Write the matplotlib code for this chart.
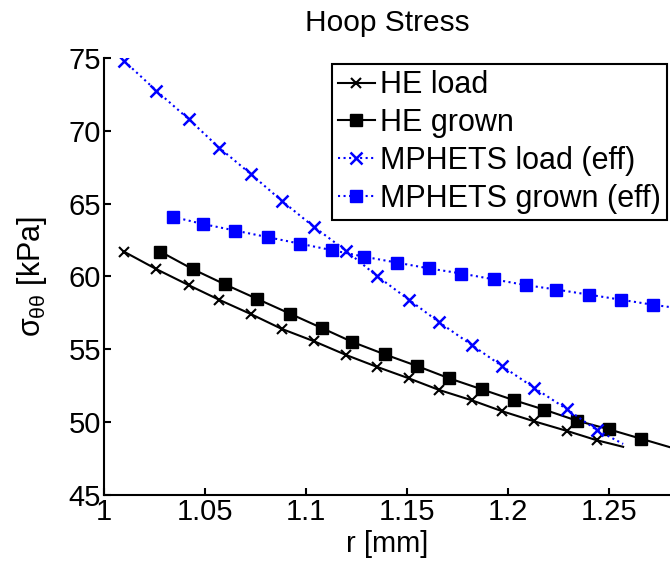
import matplotlib
matplotlib.use("Agg")
import matplotlib.pyplot as plt

plt.rcParams["font.family"] = ["Liberation Sans", "DejaVu Sans"]
plt.rcParams["mathtext.fontset"] = "custom"
plt.rcParams["mathtext.rm"] = "Liberation Sans"
plt.rcParams["mathtext.it"] = "Liberation Sans"

# radial positions (mm); last point of each load curve carries no marker
r_load = [1.010, 1.026, 1.042, 1.057, 1.073, 1.088, 1.104, 1.120, 1.135,
          1.151, 1.166, 1.182, 1.197, 1.213, 1.229, 1.244, 1.257]
r_he_grown = [1.028, 1.044, 1.060, 1.076, 1.092, 1.108, 1.123, 1.139, 1.155,
              1.171, 1.187, 1.203, 1.218, 1.234, 1.250, 1.266, 1.282]
r_mp_grown = [1.034, 1.049, 1.065, 1.081, 1.097, 1.113, 1.129, 1.145, 1.161,
              1.177, 1.193, 1.209, 1.224, 1.240, 1.256, 1.272, 1.288]

# hoop stress (kPa)
he_load = [61.7, 60.5, 59.4, 58.4, 57.4, 56.4, 55.55, 54.6, 53.8, 53.0,
           52.2, 51.5, 50.75, 50.05, 49.4, 48.75, 48.3]
he_grown = [61.7, 60.5, 59.45, 58.45, 57.45, 56.45, 55.5, 54.65, 53.85,
            53.0, 52.25, 51.5, 50.85, 50.1, 49.5, 48.85, 48.2]
mp_load = [74.8, 72.75, 70.8, 68.85, 67.0, 65.2, 63.4, 61.75, 60.05, 58.4,
           56.85, 55.3, 53.85, 52.35, 50.9, 49.45, 48.5]
mp_grown = [64.1, 63.6, 63.15, 62.7, 62.25, 61.8, 61.35, 60.95, 60.55,
            60.2, 59.8, 59.4, 59.1, 58.75, 58.4, 58.05, 57.75]

fig = plt.figure(figsize=(6.7, 5.63), dpi=100)
ax = fig.add_axes([0.155, 0.121, 0.845, 0.776])

ax.plot(r_load, he_load, "k-", marker="x", ms=7, mew=1.5, lw=1.5,
        markevery=slice(0, 16), label="HE load")
ax.plot(r_he_grown, he_grown, "k-", marker="s", ms=8, lw=1.5,
        markevery=slice(0, 16), label="HE grown")
ax.plot(r_load, mp_load, color="blue", ls=":", marker="x", ms=8, mew=1.8,
        lw=1.5, markevery=slice(0, 16), label="MPHETS load (eff)")
ax.plot(r_mp_grown, mp_grown, color="blue", ls=":", marker="s", ms=9,
        lw=1.5, markevery=slice(0, 16), label="MPHETS grown (eff)")

ax.set_xlim(1, 1.2802)
ax.set_ylim(45, 75)
ax.set_xticks([1, 1.05, 1.1, 1.15, 1.2, 1.25])
ax.set_xticklabels(["1", "1.05", "1.1", "1.15", "1.2", "1.25"])
ax.set_yticks([45, 50, 55, 60, 65, 70, 75])

for side in ["top", "right"]:
    ax.spines[side].set_visible(False)
for side in ["left", "bottom"]:
    ax.spines[side].set_linewidth(1.5)
ax.tick_params(direction="in", length=5, width=1.5, labelsize=21, pad=2)

ax.set_xlabel("r [mm]", fontsize=21, labelpad=3)
ax.set_ylabel(r"$\sigma_{\theta\theta}$ [kPa]", fontsize=22, labelpad=14)
ax.text(0.5, 1.048, "Hoop Stress", transform=ax.transAxes,
        ha="center", va="bottom", fontsize=21.5)

leg = ax.legend(loc="upper right", bbox_to_anchor=(0.995, 0.986),
                borderaxespad=0, fontsize=22, fancybox=False, framealpha=1,
                edgecolor="black", handlelength=1.2, handletextpad=0.18,
                labelspacing=0.26, borderpad=0.2)
leg.get_frame().set_linewidth(1.5)

fig.savefig("out.png", dpi=100)
